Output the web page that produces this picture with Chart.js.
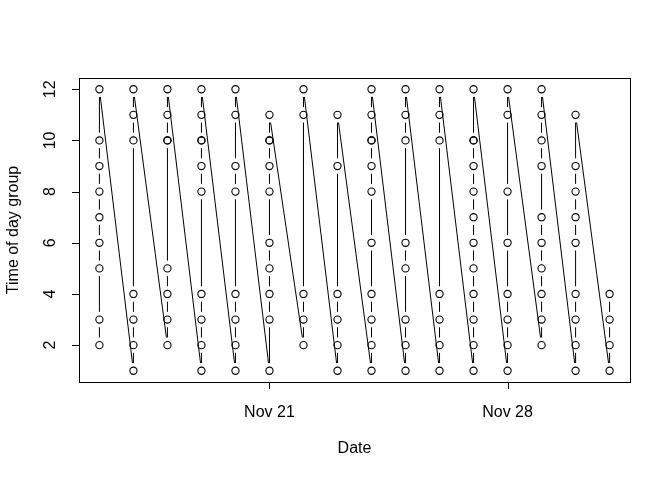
<!DOCTYPE html>
<html>
<head>
<meta charset="utf-8">
<script src="https://cdn.jsdelivr.net/npm/chart.js@4/dist/chart.umd.min.js"></script>
<style>
  html, body { margin: 0; padding: 0; background: #ffffff; }
  canvas { display: block; }
</style>
</head>
<body>
<canvas id="plot" width="672" height="480"></canvas>
<script>
// days on the x axis (day number counted from Nov 1; Dec 1 = 31)
const dayNumbers = [16, 17, 18, 19, 20, 21, 22, 23, 24, 25, 26, 27, 28, 29, 30, 31];

// time-of-day groups observed each day, in time order
const groupsByDay = [
    [2, 3, 5, 6, 7, 8, 9, 10, 12],
    [1, 2, 3, 4, 10, 11, 12],
    [2, 3, 4, 5, 10, 10, 11, 12],
    [1, 2, 3, 4, 8, 9, 10, 10, 11, 12],
    [1, 2, 3, 4, 8, 9, 11, 12],
    [1, 3, 4, 5, 6, 8, 9, 10, 10, 11],
    [2, 3, 4, 11, 12],
    [1, 2, 3, 4, 9, 11],
    [1, 2, 3, 4, 6, 8, 9, 10, 10, 11, 12],
    [1, 2, 3, 5, 6, 10, 11, 12],
    [1, 2, 3, 4, 10, 11, 12],
    [1, 2, 3, 4, 5, 6, 7, 8, 9, 10, 10, 12],
    [1, 2, 3, 4, 6, 8, 11, 12],
    [2, 3, 4, 5, 6, 7, 9, 10, 11, 12],
    [1, 2, 3, 4, 6, 7, 8, 9, 11],
    [1, 2, 3, 4]
];

const yTicks = [2, 4, 6, 8, 10, 12];
const xTicks = [21, 28];
const xTickLabels = ['Nov 21', 'Nov 28'];

const FONT = '16px "Liberation Sans", Arial, sans-serif';
const GAP = 7.7;   // type="b" : les segments s'arrêtent avant les cercles
const TICK = 7;

// flat list of observations
const points = [];
dayNumbers.forEach(function (d, i) {
    groupsByDay[i].forEach(function (g) { points.push({ x: d, y: g }); });
});

// R-style padding of the ranges (4 %)
const xMin = Math.min.apply(null, dayNumbers), xMax = Math.max.apply(null, dayNumbers);
const xPad = (xMax - xMin) * 0.04;
const yPad = (12 - 1) * 0.04;

const rPlot = {
    id: 'rPlot',
    beforeDatasetsDraw(chart) {
        const ctx = chart.ctx;
        const pts = chart.getDatasetMeta(0).data;
        ctx.save();
        ctx.strokeStyle = '#000';
        ctx.lineWidth = 1;
        ctx.beginPath();
        for (let i = 1; i < pts.length; i++) {
            const a = pts[i - 1], b = pts[i];
            const dx = b.x - a.x, dy = b.y - a.y;
            const len = Math.sqrt(dx * dx + dy * dy);
            if (len <= 2 * GAP) continue;
            const ux = dx / len, uy = dy / len;
            ctx.moveTo(a.x + ux * GAP, a.y + uy * GAP);
            ctx.lineTo(b.x - ux * GAP, b.y - uy * GAP);
        }
        ctx.stroke();
        ctx.restore();
    },
    afterDraw(chart) {
        const ctx = chart.ctx;
        const area = chart.chartArea;
        const xs = chart.scales.x, ys = chart.scales.y;
        ctx.save();
        ctx.strokeStyle = '#000';
        ctx.fillStyle = '#000';
        ctx.lineWidth = 1;
        ctx.font = FONT;

        // box
        ctx.strokeRect(area.left + 0.5, area.top + 0.5, area.right - area.left, area.bottom - area.top);

        // y axis
        ctx.beginPath();
        ctx.moveTo(area.left + 0.5, ys.getPixelForValue(yTicks[0]));
        ctx.lineTo(area.left + 0.5, ys.getPixelForValue(yTicks[yTicks.length - 1]));
        yTicks.forEach(function (v) {
            const y = Math.round(ys.getPixelForValue(v)) + 0.5;
            ctx.moveTo(area.left - TICK, y);
            ctx.lineTo(area.left, y);
        });
        ctx.stroke();
        ctx.textAlign = 'center';
        ctx.textBaseline = 'middle';
        yTicks.forEach(function (v) {
            ctx.save();
            ctx.translate(area.left - 28, ys.getPixelForValue(v));
            ctx.rotate(-Math.PI / 2);
            ctx.fillText(String(v), 0, 0);
            ctx.restore();
        });

        // x axis
        ctx.beginPath();
        ctx.moveTo(xs.getPixelForValue(xTicks[0]), area.bottom + 0.5);
        ctx.lineTo(xs.getPixelForValue(xTicks[xTicks.length - 1]), area.bottom + 0.5);
        xTicks.forEach(function (v) {
            const x = Math.round(xs.getPixelForValue(v)) + 0.5;
            ctx.moveTo(x, area.bottom);
            ctx.lineTo(x, area.bottom + TICK);
        });
        ctx.stroke();
        xTicks.forEach(function (v, i) {
            ctx.fillText(xTickLabels[i], xs.getPixelForValue(v), area.bottom + 31);
        });

        // titles
        ctx.fillText('Date', (area.left + area.right) / 2, 449);
        ctx.save();
        ctx.translate(14, (area.top + area.bottom) / 2);
        ctx.rotate(-Math.PI / 2);
        ctx.fillText('Time of day group', 0, 0);
        ctx.restore();

        ctx.restore();
    }
};

new Chart(document.getElementById('plot'), {
    type: 'scatter',
    data: {
        datasets: [{
            data: points,
            showLine: false,
            pointStyle: 'circle',
            pointRadius: 3.6,
            pointBorderWidth: 1.1,
            pointBorderColor: '#000',
            pointBackgroundColor: 'rgba(0,0,0,0)',
            pointHoverRadius: 3.6
        }]
    },
    options: {
        responsive: false,
        animation: false,
        devicePixelRatio: 1,
        layout: { padding: { left: 79, top: 78, right: 42, bottom: 98 } },
        plugins: { legend: { display: false }, tooltip: { enabled: false } },
        events: [],
        scales: {
            x: { type: 'linear', display: false, min: xMin - xPad, max: xMax + xPad },
            y: { type: 'linear', display: false, min: 1 - yPad, max: 12 + yPad }
        }
    },
    plugins: [rPlot]
});
</script>
</body>
</html>
